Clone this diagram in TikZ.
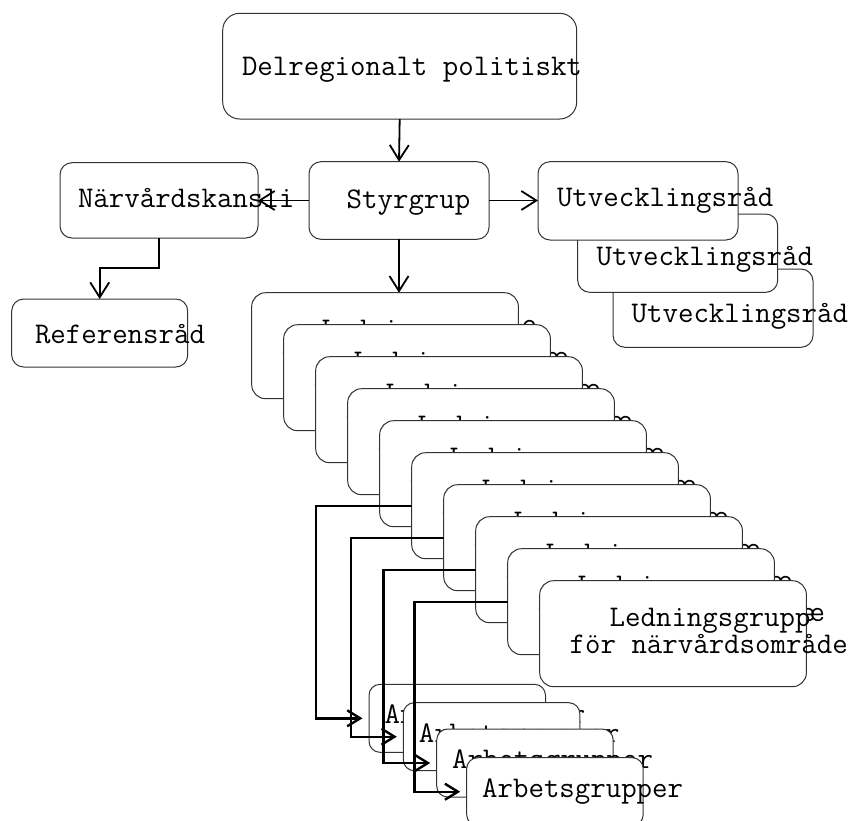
\documentclass[tikz,border=0pt]{standalone}
\usetikzlibrary{arrows.meta}
\begin{document}
\begin{tikzpicture}[x=1pt,y=-1pt,
  every node/.style={inner sep=0pt, outer sep=0pt},
  box/.style={draw=black!80, line width=1pt, fill=white, rounded corners=12pt, anchor=north west},
  lbox/.style={box, rounded corners=14pt, minimum width=266.7pt, minimum height=106pt},
  abox/.style={box, rounded corners=11pt, minimum width=176.5pt, minimum height=68pt},
  ubox/.style={box, minimum width=200pt, minimum height=78.3pt},
  lbl/.style={anchor=base west, font=\fontsize{30}{36}\selectfont\ttfamily},
  arr/.style={line width=1.8pt, -{Straight Barb[length=15pt,width=19pt]}},
  conn/.style={line width=2.4pt, -{Straight Barb[length=13pt,width=16pt]}, shorten >=6.5pt}]
\fill[white] (0,0) rectangle (856,820);
\useasboundingbox (0,0) rectangle (856,820);
\clip (0,0) rectangle (856,820);

% top
\node[box, rounded corners=17pt, minimum width=354pt, minimum height=105.7pt] (del) at (222.7,13.3) {};
\node[lbl] (delt) at (242,75) {Delregionalt politiskt};
\node[box, minimum width=198pt, minimum height=75.3pt] (nk) at (60,162.7) {};
\node[lbl] (nkt) at (78,207.5) {Närvårdskansli};
\node[box, minimum width=180pt, minimum height=77.6pt] (sty) at (309,161.7) {};
\node[lbl] (styt) at (346.7,208) {Styrgrup};
\node[box, minimum width=176pt, minimum height=68pt] (ref) at (11.7,299) {};
\node[lbl] (reft) at (35,343) {Referensråd};

% Utvecklingsråd (back to front)
\node[ubox] (u3) at (613,269) {};
\node[lbl] (u3t) at (631.7,322.5) {Utvecklingsråd};
\node[ubox] (u2) at (577.7,214) {};
\node[lbl] (u2t) at (596.7,265) {Utvecklingsråd};
\node[ubox] (u1) at (538,161.7) {};
\node[lbl] (u1t) at (557,206.5) {Utvecklingsråd};

% Ledningsgrupp stack
\foreach \k in {1,...,10} {
  \pgfmathsetmacro\lx{251.7+32*(\k-1)}
  \pgfmathsetmacro\ly{292.7+32*(\k-1)}
  \node[lbox] (L\k) at (\lx,\ly) {};
  \node[lbl] (L\k-a) at (\lx+70,\ly+45.5) {Ledningsgrupp};
  \node[lbl] (L\k-e) at (\lx+270,\ly+41) {e};
  \node[lbl] (L\k-b) at (\lx+30,\ly+72.5) {för närvårdsområde};
}

% Arbetsgrupper
\node[abox] (A1) at (369,684.3) {};
\node[lbl] (A1t) at (384.5,723.8) {Arbetsgrupper};
\node[abox] (A2) at (403.3,702.7) {};
\node[lbl] (A2t) at (418.8,742.2) {Arbetsgrupper};
\node[abox] (A3) at (436.7,729) {};
\node[lbl] (A3t) at (452.2,768.5) {Arbetsgrupper};
\node[abox] (A4) at (466.7,757.7) {};
\node[lbl] (A4t) at (482.2,797.2) {Arbetsgrupper};

% connectors
\draw[arr] (del.south) -- (sty.north);
\draw[arr] (sty.west) -- (sty.west -| nk.east);
\draw[arr] (sty.east) -- (sty.east -| u1.west);
\draw[arr] (sty.south) -- (sty.south |- L1.north);
\draw[arr] (nk.south) -- ++(0,30.3) -| (ref.north);
\draw[conn] (L6.west) -- ++(-95.7,0) |- (A1.west);
\draw[conn] (L7.west) -- ++(-93,0) |- (A2.west);
\draw[conn] (L8.west) -- ++(-92.4,0) |- (A3.west);
\draw[conn] (L9.west) -- ++(-93.4,0) |- (A4.west);
\end{tikzpicture}
\end{document}
